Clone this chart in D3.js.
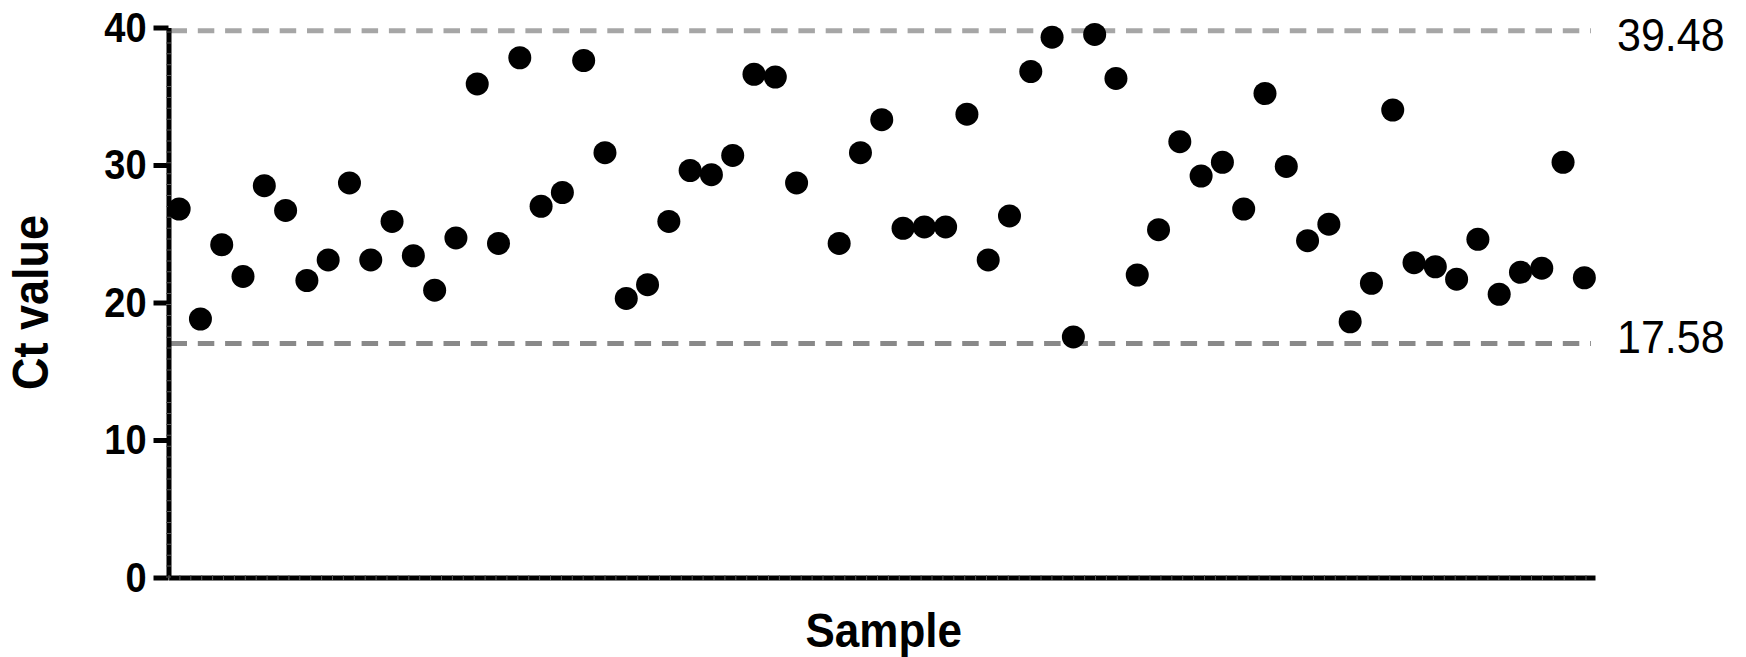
<!DOCTYPE html>
<html>
<head>
<meta charset="utf-8">
<script src="https://cdn.jsdelivr.net/npm/d3@7"></script>
<style>
  body { margin:0; background:#fff; }
  text { font-family: "Liberation Sans", Arial, sans-serif; }
</style>
</head>
<body>
<div id="chart-area"></div>
<script>
// Ct values per sample (sample 31 has no point)
var samples = d3.range(1, 68);
var ctValues = [26.8, 18.8, 24.2, 21.9, 28.5, 26.7, 21.6, 23.1, 28.7, 23.1,
                25.9, 23.4, 20.9, 24.7, 35.9, 24.3, 37.8, 27.0, 28.0, 37.6,
                30.9, 20.3, 21.3, 25.9, 29.6, 29.3, 30.7, 36.6, 36.4, 28.7,
                null, 24.3, 30.9, 33.3, 25.4, 25.5, 25.5, 33.7, 23.1, 26.3,
                36.8, 39.3, 17.5, 39.5, 36.3, 22.0, 25.3, 31.7, 29.2, 30.2,
                26.8, 35.2, 29.9, 24.5, 25.7, 18.6, 21.4, 34.0, 22.9, 22.6,
                21.7, 24.6, 20.6, 22.2, 22.5, 30.2, 21.8];
var yTicks = [0, 10, 20, 30, 40];
// reference lines as drawn, and their printed labels
var refLines = [39.76, 17.02];
var refLabels = ["39.48", "17.58"];
var refColors = ["#a6a6a6", "#898989"];

var W = 1746, H = 657;
var plot = { x0: 168.5, x1: 1595, y0: 27.5, y1: 577.5 };

var svg = d3.select("#chart-area")
	.append("svg")
		.attr("width", W)
		.attr("height", H);

var x = d3.scalePoint()
	.domain(samples)
	.range([plot.x0, plot.x1])
	.padding(0.5);

var y = d3.scaleLinear()
	.domain([0, 40])
	.range([plot.y1, plot.y0]);

// reference dashed lines
svg.selectAll("line.ref")
	.data(refLines)
	.enter().append("line")
		.attr("class", "ref")
		.attr("x1", plot.x0 + 2)
		.attr("x2", 1591)
		.attr("y1", function(d){ return y(d); })
		.attr("y2", function(d){ return y(d); })
		.attr("stroke", function(d, i){ return refColors[i]; })
		.attr("stroke-width", 5)
		.attr("stroke-dasharray", "16.5,10.8");

// labels are slightly narrower and taller than plain Arial
svg.selectAll("text.ref")
	.data(refLabels)
	.enter().append("text")
		.attr("class", "ref")
		.attr("transform", function(d){ return "translate(1617," + y(+d) + ") scale(1,1.08)"; })
		.attr("dy", "0.36em")
		.attr("font-size", "43px")
		.attr("fill", "#000")
		.text(function(d){ return d; });

// axes
var yAxis = svg.append("g")
	.attr("transform", "translate(" + plot.x0 + ",0)")
	.call(d3.axisLeft(y).tickValues(yTicks).tickSize(15).tickSizeOuter(0).tickPadding(7));

var xAxis = svg.append("g")
	.attr("transform", "translate(0," + plot.y1 + ")")
	.call(d3.axisBottom(x).tickValues([]).tickSizeOuter(0));

svg.selectAll(".domain, .tick line")
	.attr("stroke", "#000")
	.attr("stroke-width", 5);

yAxis.selectAll("text")
	.attr("font-size", "38px")
	.attr("font-weight", "bold")
	.attr("font-family", "Liberation Sans, Arial, sans-serif")
	.attr("fill", "#000")
	.attr("transform", "scale(1,1.14)");

// faint minor marks on the thick axis lines
svg.append("line")
	.attr("x1", plot.x0).attr("x2", plot.x0)
	.attr("y1", plot.y1).attr("y2", plot.y0)
	.attr("stroke", "#555").attr("stroke-width", 5)
	.attr("stroke-dasharray", "1,9.9");
svg.append("line")
	.attr("x1", plot.x0).attr("x2", plot.x1)
	.attr("y1", plot.y1).attr("y2", plot.y1)
	.attr("stroke", "#555").attr("stroke-width", 5)
	.attr("stroke-dasharray", "1,9.9");

// points
svg.selectAll("circle")
	.data(ctValues.map(function(v, i){ return { s: samples[i], v: v }; })
		.filter(function(d){ return d.v !== null; }))
	.enter().append("circle")
		.attr("cx", function(d){ return x(d.s); })
		.attr("cy", function(d){ return y(d.v); })
		.attr("r", 11.5)
		.attr("fill", "#000");

// axis titles
svg.append("text")
	.attr("transform", "translate(" + ((plot.x0 + plot.x1) / 2 + 2) + ",647) scale(1,1.1)")
	.attr("text-anchor", "middle")
	.attr("font-size", "44px")
	.attr("font-weight", "bold")
	.text("Sample");

svg.append("text")
	.attr("transform", "translate(48," + ((plot.y0 + plot.y1) / 2) + ") rotate(-90) scale(1,1.1)")
	.attr("text-anchor", "middle")
	.attr("font-size", "45px")
	.attr("font-weight", "bold")
	.text("Ct value");
</script>
</body>
</html>
